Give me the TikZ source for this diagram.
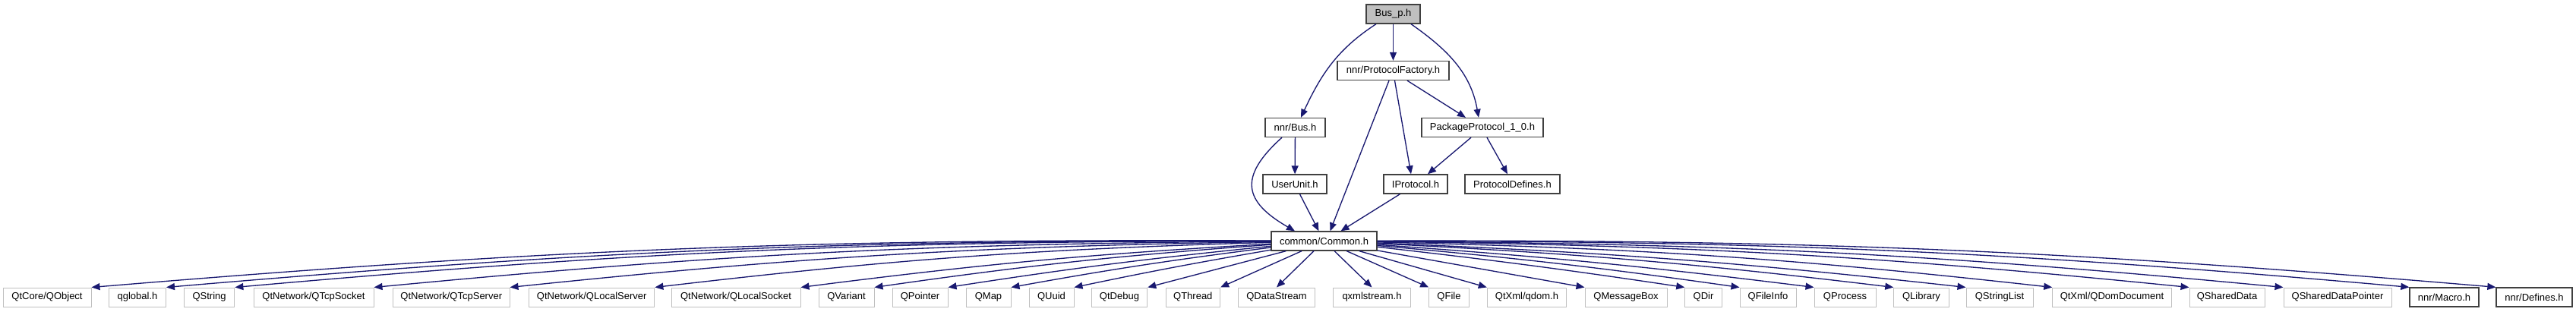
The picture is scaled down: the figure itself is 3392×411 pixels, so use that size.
\documentclass[tikz,border=0pt]{standalone}
\usepackage{fontspec}
\setmainfont{Liberation Sans}
\usepackage{xcolor}
\usepackage{tikz}
\usetikzlibrary{arrows.meta,calc}
\definecolor{depblue}{HTML}{191970}
\definecolor{curgray}{HTML}{BFBFBF}
\definecolor{sysgray}{HTML}{BFBFBF}
\definecolor{hdrline}{HTML}{404040}

\begin{document}
\begin{tikzpicture}[
  x=0.3pt, y=0.3pt,
  hdr/.style={draw=hdrline, line width=0.4pt, fill=white, minimum height=7.5pt, inner sep=0pt, font=\fontsize{3.9}{4.5}\selectfont},
  sys/.style={hdr, draw=sysgray, line width=0.3pt},
  bw/.style={minimum width=#1*0.3pt},
  dep/.style={draw=depblue, line width=0.4pt, -{Triangle[length=3.3pt,width=2.7pt]}},
  ]
  \useasboundingbox (0,0) rectangle (3392,-411);

  % upper part of the include graph
  \node[hdr, fill=curgray, bw=71] (bus_p) at (1834.5,-18.5) {Bus\_p.h};
  \node[hdr, bw=147] (pfactory) at (1834.5,-93) {nnr/ProtocolFactory.h};
  \node[hdr, bw=79] (nbus) at (1705.5,-168) {nnr/Bus.h};
  \node[hdr, bw=160] (pkgproto) at (1952,-168) {PackageProtocol\_1\_0.h};
  \node[hdr, bw=84] (userunit) at (1705,-242.5) {UserUnit.h};
  \node[hdr, bw=84] (iproto) at (1864,-242.5) {IProtocol.h};
  \node[hdr, bw=125] (pdefines) at (1991.5,-242.5) {ProtocolDefines.h};
  \node[hdr, bw=139] (common) at (1743.5,-317.5) {common/Common.h};

  % bottom row
  \node[sys, bw=116] (qobject) at (62,-391.5) {QtCore/QObject};
  \node[sys, bw=75] (qglobal) at (181,-391.5) {qglobal.h};
  \node[sys, bw=66.6] (qstring) at (275.6,-391.5) {QString};
  \node[sys, bw=158] (qtcpsocket) at (413,-391.5) {QtNetwork/QTcpSocket};
  \node[sys, bw=153.4] (qtcpserver) at (594.3,-391.5) {QtNetwork/QTcpServer};
  \node[sys, bw=165.4] (qlocalserver) at (779.2,-391.5) {QtNetwork/QLocalServer};
  \node[sys, bw=170] (qlocalsocket) at (969,-391.5) {QtNetwork/QLocalSocket};
  \node[sys, bw=73] (qvariant) at (1114.5,-391.5) {QVariant};
  \node[sys, bw=73] (qpointer) at (1211.5,-391.5) {QPointer};
  \node[sys, bw=59] (qmap) at (1301.5,-391.5) {QMap};
  \node[sys, bw=59] (quuid) at (1384.5,-391.5) {QUuid};
  \node[sys, bw=73.5] (qtdebug) at (1474,-391.5) {QtDebug};
  \node[sys, bw=71.5] (qthread) at (1570.8,-391.5) {QThread};
  \node[sys, bw=101.5] (qdatastream) at (1681,-391.5) {QDataStream};
  \node[sys, bw=101.6] (qxmlstream) at (1806.5,-391.5) {qxmlstream.h};
  \node[sys, bw=52.6] (qfile) at (1908,-391.5) {QFile};
  \node[sys, bw=104.4] (qdom) at (2010.5,-391.5) {QtXml/qdom.h};
  \node[sys, bw=108] (qmessagebox) at (2141,-391.5) {QMessageBox};
  \node[sys, bw=48.5] (qdir) at (2243,-391.5) {QDir};
  \node[sys, bw=74] (qfileinfo) at (2328,-391.5) {QFileInfo};
  \node[sys, bw=81] (qprocess) at (2429.5,-391.5) {QProcess};
  \node[sys, bw=72.5] (qlibrary) at (2530,-391.5) {QLibrary};
  \node[sys, bw=88] (qstringlist) at (2633,-391.5) {QStringList};
  \node[sys, bw=156.5] (qdomdocument) at (2781,-391.5) {QtXml/QDomDocument};
  \node[sys, bw=99] (qshareddata) at (2932.5,-391.5) {QSharedData};
  \node[sys, bw=142] (qshareddataptr) at (3078,-391.5) {QSharedDataPointer};
  \node[hdr, bw=91] (nmacro) at (3218.5,-391.5) {nnr/Macro.h};
  \node[hdr, bw=100] (ndefines) at (3337,-391.5) {nnr/Defines.h};

  % includes of the upper part
  \draw[dep] ($(bus_p.south)+(-22.5,0)$) to[out=213,in=65] ($(nbus.north)+(7.5,0)$);
  \draw[dep] (bus_p) -- (pfactory);
  \draw[dep] ($(bus_p.south)+(23.5,0)$) to[out=-35,in=100] ($(pkgproto.north)+(-5,0)$);
  \draw[dep] ($(pfactory.south)+(18.5,0)$) -- ($(pkgproto.north)+(-22,0)$);
  \draw[dep] ($(pfactory.south)+(-5.5,0)$) -- ($(common.north)+(8,0)$);
  \draw[dep] ($(pfactory.south)+(2,0)$) -- ($(iproto.north)+(-6,0)$);
  \draw[dep] ($(pkgproto.south)+(-15,0)$) -- ($(iproto.north)+(16,0)$);
  \draw[dep] ($(pkgproto.south)+(6,0)$) -- ($(pdefines.north)+(-6.5,0)$);
  \draw[dep] (nbus) -- (userunit);
  \draw[dep] ($(nbus.south)+(-17.5,0)$) to[out=222,in=150,looseness=1.6] ($(common.north)+(-38.5,0)$);
  \draw[dep] ($(userunit.south)+(6.5,0)$) -- ($(common.north)+(-7,0)$);
  \draw[dep] ($(iproto.south)+(-20.5,0)$) -- ($(common.north)+(22,0)$);

  % includes of Common.h
  \draw[dep] (common) to[bend right=2.5] (qobject.north east);
  \draw[dep] (common) to[bend right=2.5] (qglobal.north east);
  \draw[dep] (common) to[bend right=2.5] (qstring.north east);
  \draw[dep] (common) to[bend right=2.5] (qtcpsocket.north east);
  \draw[dep] (common) to[bend right=2.5] (qtcpserver.north east);
  \draw[dep] (common) to[bend right=2.5] (qlocalserver.north east);
  \draw[dep] (common) to[bend right=2] (qlocalsocket.north east);
  \draw[dep] (common) to[bend right=2] (qvariant.north east);
  \draw[dep] (common) to[bend right=1.5] (qpointer.north east);
  \draw[dep] (common) to[bend right=1.5] (qmap.north east);
  \draw[dep] (common) to[bend right=1] (quuid.north east);
  \draw[dep] (common) -- (qtdebug.north east);
  \draw[dep] (common) -- (qthread.north east);
  \draw[dep] (common) -- (qdatastream.north);
  \draw[dep] (common) -- (qxmlstream.north);
  \draw[dep] (common) -- (qfile.north west);
  \draw[dep] (common) -- (qdom.north west);
  \draw[dep] (common) -- (qmessagebox.north west);
  \draw[dep] (common) to[bend left=1] (qdir.north west);
  \draw[dep] (common) to[bend left=1.5] (qfileinfo.north west);
  \draw[dep] (common) to[bend left=1.5] (qprocess.north west);
  \draw[dep] (common) to[bend left=2] (qlibrary.north west);
  \draw[dep] (common) to[bend left=2] (qstringlist.north west);
  \draw[dep] (common) to[bend left=2.5] (qdomdocument.north west);
  \draw[dep] (common) to[bend left=2.5] (qshareddata.north west);
  \draw[dep] (common) to[bend left=2.5] (qshareddataptr.north west);
  \draw[dep] (common) to[bend left=2.5] (nmacro.north west);
  \draw[dep] (common) to[bend left=2.5] (ndefines.north west);
\end{tikzpicture}
\end{document}
